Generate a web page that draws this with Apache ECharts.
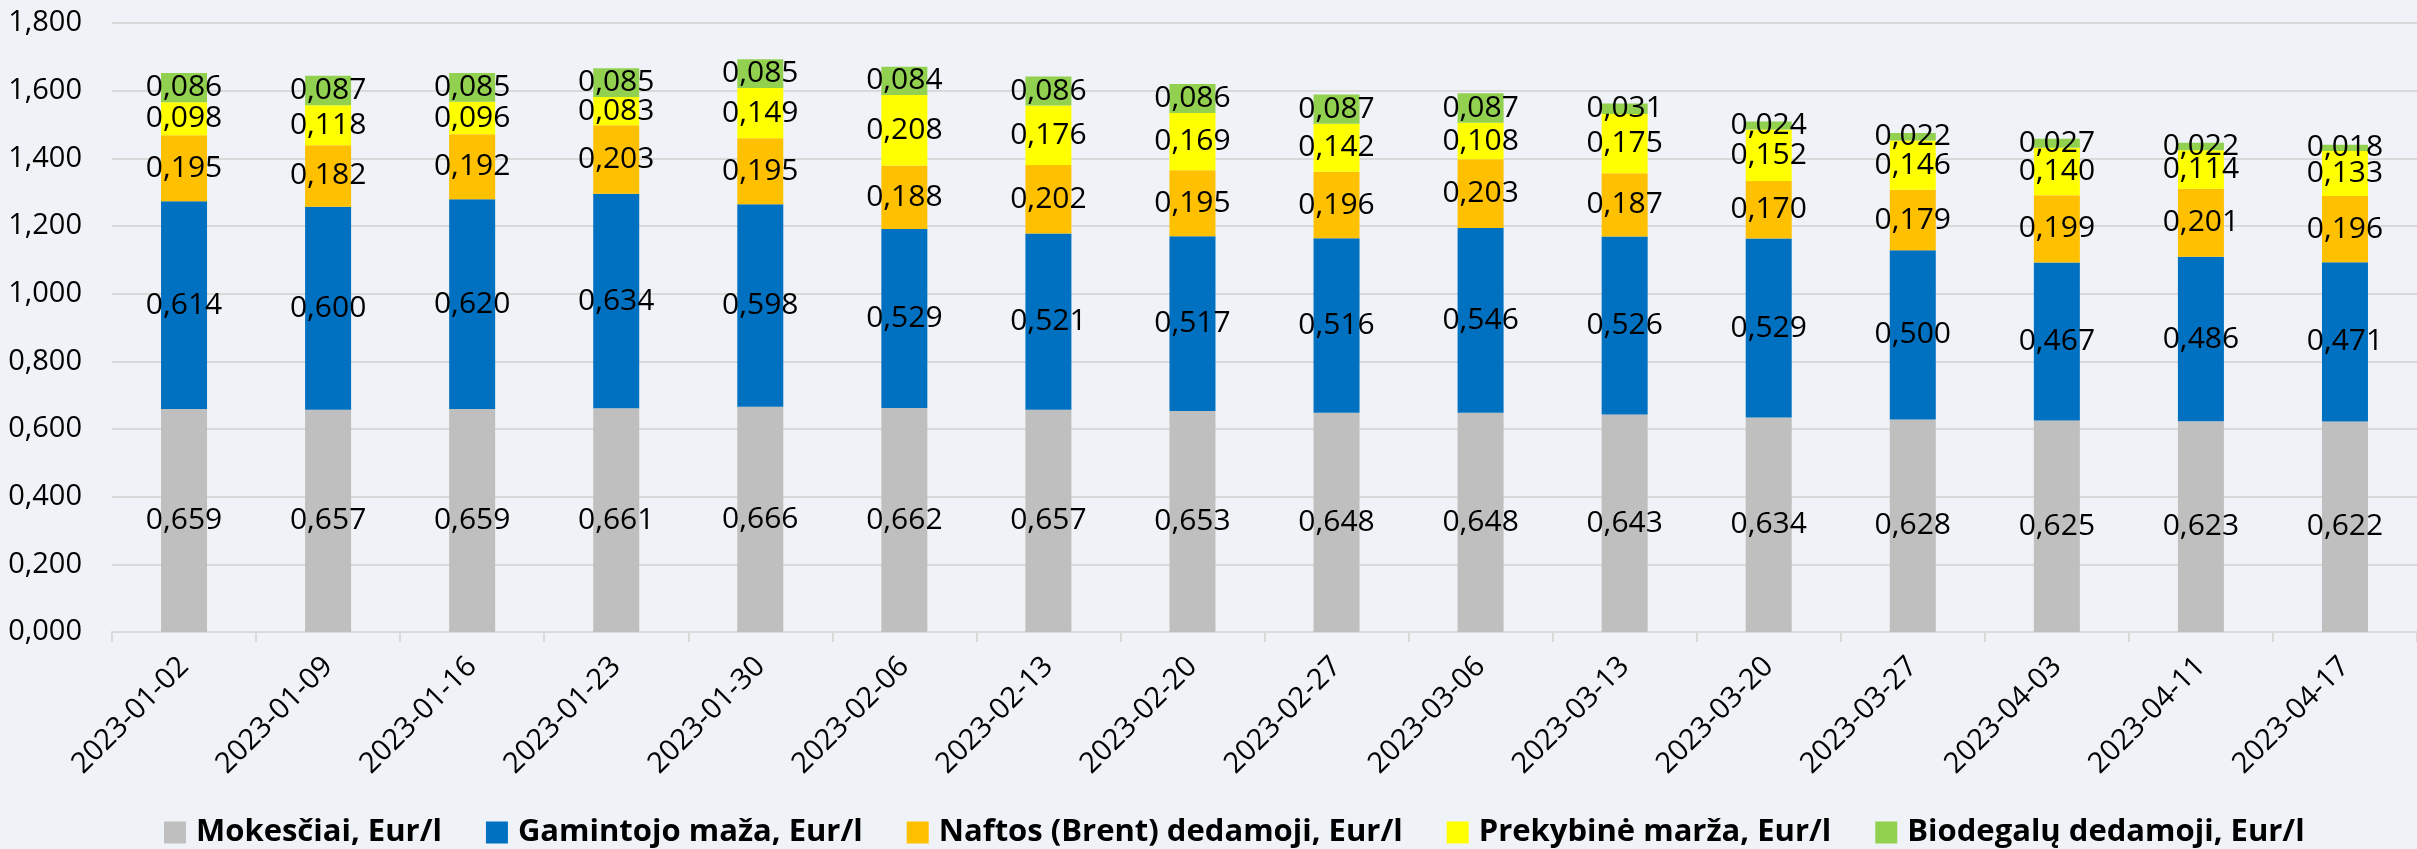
<!DOCTYPE html>
<html>
<head>
<meta charset="utf-8">
<script src="https://cdn.jsdelivr.net/npm/echarts@6/dist/echarts.min.js"></script>
<style>
  html, body { margin: 0; padding: 0; background: #eff3f7; }
  #chart { width: 2417px; height: 849px; }
</style>
</head>
<body>
<div id="chart"></div>
<script>
// savaitės
const dates = ['2023-01-02', '2023-01-09', '2023-01-16', '2023-01-23', '2023-01-30', '2023-02-06',
  '2023-02-13', '2023-02-20', '2023-02-27', '2023-03-06', '2023-03-13', '2023-03-20',
  '2023-03-27', '2023-04-03', '2023-04-11', '2023-04-17']

const mokesciai = [0.659, 0.657, 0.659, 0.661, 0.666, 0.662, 0.657, 0.653, 0.648, 0.648, 0.643, 0.634, 0.628, 0.625, 0.623, 0.622]
const gamintojo = [0.614, 0.600, 0.620, 0.634, 0.598, 0.529, 0.521, 0.517, 0.516, 0.546, 0.526, 0.529, 0.500, 0.467, 0.486, 0.471]
const naftos = [0.195, 0.182, 0.192, 0.203, 0.195, 0.188, 0.202, 0.195, 0.196, 0.203, 0.187, 0.170, 0.179, 0.199, 0.201, 0.196]
const prekybine = [0.098, 0.118, 0.096, 0.083, 0.149, 0.208, 0.176, 0.169, 0.142, 0.108, 0.175, 0.152, 0.146, 0.140, 0.114, 0.133]
const biodegalu = [0.086, 0.087, 0.085, 0.085, 0.085, 0.084, 0.086, 0.086, 0.087, 0.087, 0.031, 0.024, 0.022, 0.027, 0.022, 0.018]

const font = 'Open Sans'
const fmt = (v) => v.toFixed(3).replace('.', ',')

function bar(name, data, color) {
  return {
    name: name,
    type: 'bar',
    stack: 'kaina',
    barWidth: 46,
    data: data,
    itemStyle: { color: color },
    label: {
      show: true,
      position: 'inside',
      color: '#000',
      fontFamily: font,
      fontSize: 30,
      formatter: (p) => fmt(p.value)
    },
    emphasis: { disabled: true }
  }
}

const chart = echarts.init(document.getElementById('chart'))
chart.setOption({
  backgroundColor: '#eff3f7',
  animation: false,
  grid: { left: 112, right: -15, top: 23, bottom: 217 },
  legend: {
    left: 159,
    top: 812,
    icon: 'rect',
    itemWidth: 22,
    itemHeight: 22,
    itemGap: 44,
    textStyle: { fontFamily: font, fontSize: 31, fontWeight: 'bold', color: '#000', padding: [0, 0, 0, 5] },
    data: ['Mokesčiai, Eur/l', 'Gamintojo maža, Eur/l', 'Naftos (Brent) dedamoji, Eur/l', 'Prekybinė marža, Eur/l', 'Biodegalų dedamoji, Eur/l']
  },
  xAxis: {
    type: 'category',
    data: dates,
    axisLine: { lineStyle: { color: '#d9d9d9', width: 2 } },
    axisTick: { show: true, length: 10, lineStyle: { color: '#d9d9d9', width: 2 } },
    axisLabel: { rotate: 45, margin: 30, color: '#000', fontFamily: font, fontSize: 29 }
  },
  yAxis: {
    type: 'value',
    min: 0,
    max: 1.8,
    interval: 0.2,
    axisLabel: { color: '#000', fontFamily: font, fontSize: 29, margin: 30, formatter: fmt },
    splitLine: { lineStyle: { color: '#d9d9d9', width: 2 } }
  },
  series: [
    bar('Mokesčiai, Eur/l', mokesciai, '#bfbfbf'),
    bar('Gamintojo maža, Eur/l', gamintojo, '#0070c0'),
    bar('Naftos (Brent) dedamoji, Eur/l', naftos, '#ffc000'),
    bar('Prekybinė marža, Eur/l', prekybine, '#ffff00'),
    bar('Biodegalų dedamoji, Eur/l', biodegalu, '#92d050')
  ]
})
</script>
</body>
</html>
